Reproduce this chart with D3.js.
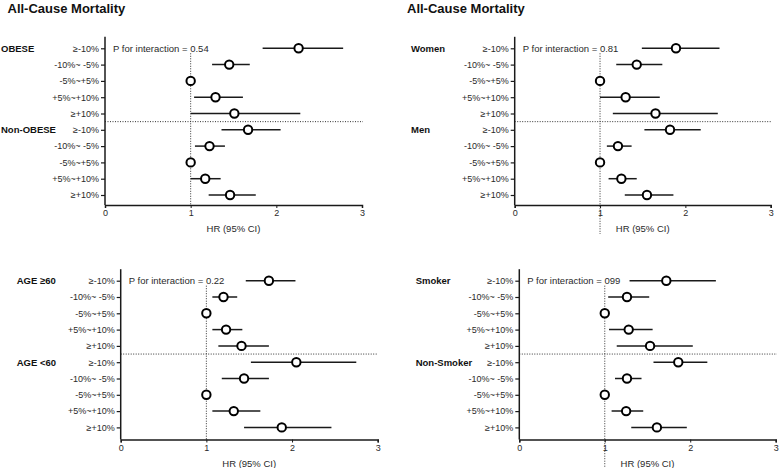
<!DOCTYPE html>
<html>
<head>
<meta charset="utf-8">
<script src="https://cdn.jsdelivr.net/npm/d3@7"></script>
<style>
  html, body { margin: 0; padding: 0; background: #fff; }
  svg { display: block; font-family: "Liberation Sans", Arial, sans-serif; }
</style>
</head>
<body>
<svg id="chart" width="779" height="468"></svg>
<script>
// ---------------- DATA ----------------
const categories = ["≥-10%", "-10%~ -5%", "-5%~+5%", "+5%~+10%", "≥+10%"];
const xTicks = [0, 1, 2, 3];
const titleText = "All-Cause Mortality";
const axisLabel = "HR (95% CI)";

const obeseHR = [2.26, 1.45, 1.0, 1.29, 1.51];
const obeseLo = [1.84, 1.25, 1.0, 1.04, 1.0];
const obeseHi = [2.78, 1.69, 1.0, 1.61, 2.28];
const nonObeseHR = [1.67, 1.22, 1.0, 1.17, 1.46];
const nonObeseLo = [1.36, 1.05, 1.0, 1.0, 1.21];
const nonObeseHi = [2.05, 1.40, 1.0, 1.35, 1.76];

const womenHR = [1.89, 1.43, 1.0, 1.30, 1.65];
const womenLo = [1.49, 1.19, 1.0, 1.0, 1.15];
const womenHi = [2.40, 1.73, 1.0, 1.70, 2.38];
const menHR = [1.82, 1.21, 1.0, 1.25, 1.55];
const menLo = [1.52, 1.08, 1.0, 1.10, 1.29];
const menHi = [2.18, 1.37, 1.0, 1.43, 1.86];

const age60plusHR = [1.73, 1.20, 1.0, 1.23, 1.41];
const age60plusLo = [1.46, 1.07, 1.0, 1.07, 1.14];
const age60plusHi = [2.04, 1.36, 1.0, 1.42, 1.73];
const ageUnder60HR = [2.05, 1.44, 1.0, 1.32, 1.88];
const ageUnder60Lo = [1.52, 1.18, 1.0, 1.07, 1.44];
const ageUnder60Hi = [2.75, 1.73, 1.0, 1.63, 2.46];

const smokerHR = [1.72, 1.26, 1.0, 1.28, 1.53];
const smokerLo = [1.29, 1.04, 1.0, 1.05, 1.14];
const smokerHi = [2.30, 1.52, 1.0, 1.56, 2.03];
const nonSmokerHR = [1.86, 1.26, 1.0, 1.25, 1.61];
const nonSmokerLo = [1.57, 1.12, 1.0, 1.08, 1.31];
const nonSmokerHi = [2.20, 1.43, 1.0, 1.45, 1.96];

const groupNames = [["OBESE", "Non-OBESE"], ["Women", "Men"], ["AGE ≥60", "AGE <60"], ["Smoker", "Non-Smoker"]];
const pValues = ["P for interaction = 0.54", "P for interaction = 0.81", "P for interaction = 0.22", "P for interaction = 099"];

// --------------- LAYOUT ----------------
const panels = [
  { groups: groupNames[0], p: pValues[0], title: true,
    series: [[obeseHR, obeseLo, obeseHi], [nonObeseHR, nonObeseLo, nonObeseHi]],
    x0: 105, x3: 362, row1: 48.3, axisY: 205, groupX: 1, titleX: 7.5, dotBottom: 205, sepEnd: 363 },
  { groups: groupNames[1], p: pValues[1], title: true,
    series: [[womenHR, womenLo, womenHi], [menHR, menLo, menHi]],
    x0: 514.7, x3: 770.7, row1: 48.3, axisY: 205, groupX: 411, titleX: 407, dotBottom: 234, sepEnd: 772 },
  { groups: groupNames[2], p: pValues[2], title: false,
    series: [[age60plusHR, age60plusLo, age60plusHi], [ageUnder60HR, ageUnder60Lo, ageUnder60Hi]],
    x0: 120.7, x3: 377.7, row1: 280.7, axisY: 439.5, groupX: 16.7, dotBottom: 439.5, sepEnd: 378 },
  { groups: groupNames[3], p: pValues[3], title: false,
    series: [[smokerHR, smokerLo, smokerHi], [nonSmokerHR, nonSmokerLo, nonSmokerHi]],
    x0: 519.3, x3: 775.7, row1: 280.7, axisY: 439.5, groupX: 415.7, dotBottom: 468, sepEnd: 777 }
];
const rowStep = 16.3;

const svg = d3.select("#chart");
const ink = "#1a1a1a";

panels.forEach(P => {
  const g = svg.append("g");
  const x = d3.scaleLinear().domain([0, 3]).range([P.x0, P.x3]);
  const rowKeys = d3.range(10);
  const y = d3.scalePoint().domain(rowKeys).range([P.row1, P.row1 + 9 * rowStep]);
  const rowLabels = categories.concat(categories);

  if (P.title) {
    g.append("text").attr("x", P.titleX).attr("y", 12.5)
      .attr("font-size", 13).attr("font-weight", "bold").attr("fill", "#111")
      .text(titleText);
  }

  // reference dotted line at HR = 1
  g.append("line")
    .attr("x1", x(1)).attr("x2", x(1))
    .attr("y1", y(0) + 5).attr("y2", P.dotBottom)
    .attr("stroke", "#333").attr("stroke-width", 1).attr("stroke-dasharray", "1,1.5");

  // separator
  const sepY = (y(4) + y(5)) / 2;
  g.append("line")
    .attr("x1", P.x0).attr("x2", P.sepEnd)
    .attr("y1", sepY).attr("y2", sepY)
    .attr("stroke", "#333").attr("stroke-width", 1).attr("stroke-dasharray", "1,1.5");

  // y axis
  const yAxis = d3.axisLeft(y).tickSize(4).tickPadding(2).tickFormat(i => rowLabels[i]);
  const ya = g.append("g").attr("transform", `translate(${P.x0},0)`).call(yAxis);
  ya.select(".domain").remove();
  ya.selectAll(".tick line").attr("stroke", ink).attr("stroke-width", 1.2);
  ya.selectAll(".tick text").attr("font-size", 9).attr("fill", "#2a2a2a")
    .attr("font-family", "Liberation Sans, Arial, sans-serif");
  g.append("line").attr("x1", P.x0).attr("x2", P.x0)
    .attr("y1", y(0) - 11.5).attr("y2", P.axisY)
    .attr("stroke", ink).attr("stroke-width", 1.5);

  // x axis
  const xAxis = d3.axisBottom(x).tickValues(xTicks).tickSize(3).tickPadding(2).tickFormat(d3.format("d"));
  const xa = g.append("g").attr("transform", `translate(0,${P.axisY})`).call(xAxis);
  xa.select(".domain").attr("stroke", ink).attr("stroke-width", 1.5);
  xa.selectAll(".tick line").attr("stroke", ink).attr("stroke-width", 1);
  xa.selectAll(".tick text").attr("font-size", 9).attr("fill", "#2a2a2a")
    .attr("font-family", "Liberation Sans, Arial, sans-serif");

  g.append("text")
    .attr("x", (P.x0 + P.x3) / 2).attr("y", P.axisY + 27)
    .attr("text-anchor", "middle").attr("font-size", 9.5).attr("fill", "#2a2a2a")
    .text(axisLabel);

  // group labels
  P.groups.forEach((name, gi) => {
    g.append("text").attr("x", P.groupX).attr("y", y(gi * 5) + 3.3)
      .attr("font-size", 9.5).attr("font-weight", "bold").attr("fill", "#111")
      .text(name);
  });

  // P text
  g.append("text").attr("x", P.x0 + 8).attr("y", y(0) + 3.4)
    .attr("font-size", 9.5).attr("fill", "#2a2a2a").text(P.p);

  // CI lines and points
  P.series.forEach((s, gi) => {
    const [hr, lo, hi] = s;
    const rows = hr.map((v, i) => ({ r: gi * 5 + i, hr: v, lo: lo[i], hi: hi[i] }));
    g.selectAll(null).data(rows).enter().append("line")
      .attr("x1", d => x(d.lo)).attr("x2", d => x(d.hi))
      .attr("y1", d => y(d.r)).attr("y2", d => y(d.r))
      .attr("stroke", ink).attr("stroke-width", 1.5);
    g.selectAll(null).data(rows).enter().append("circle")
      .attr("cx", d => x(d.hr)).attr("cy", d => y(d.r)).attr("r", 4.2)
      .attr("fill", "#fff").attr("stroke", "#000").attr("stroke-width", 2);
  });
});
</script>
</body>
</html>
